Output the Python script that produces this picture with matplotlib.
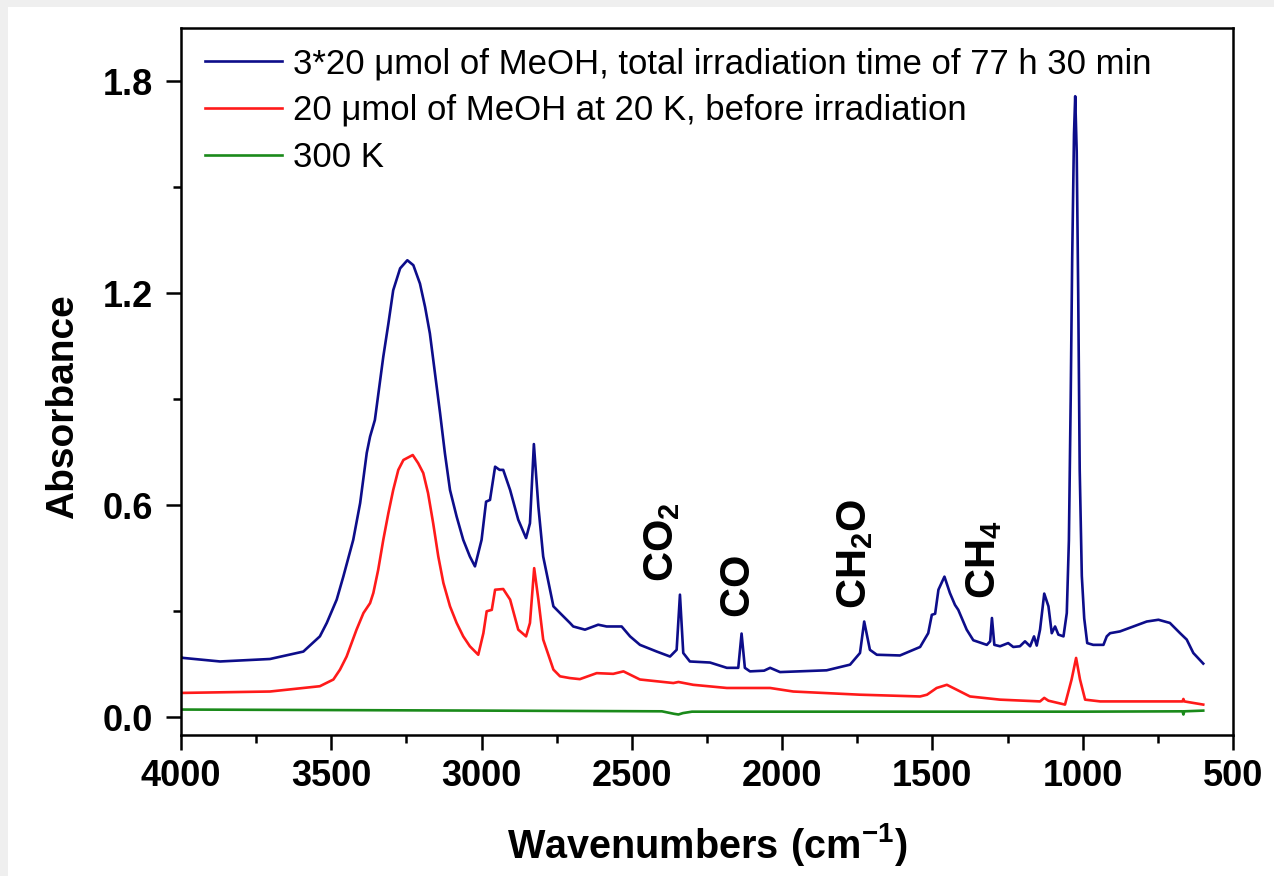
import numpy as np
import matplotlib
matplotlib.use('Agg')
import matplotlib.pyplot as plt
from matplotlib.patches import Rectangle
from matplotlib.ticker import MultipleLocator

plt.rcParams['font.family'] = ['Liberation Sans', 'DejaVu Sans']
plt.rcParams['mathtext.fontset'] = 'custom'
plt.rcParams['mathtext.rm'] = 'Liberation Sans'
plt.rcParams['mathtext.bf'] = 'Liberation Sans:bold'

#------------------------------ data ------------------------------

irr_wn = [4000, 3992, 3870, 3704, 3593, 3538, 3515, 3482, 3460, 3427, 3404, 3382, 3371, 3355,
          3327, 3310, 3294, 3271, 3247, 3227, 3205, 3188, 3172, 3155, 3138, 3122, 3105, 3083,
          3061, 3039, 3022, 3000, 2985, 2972, 2955, 2940, 2928, 2905,
          2878, 2852, 2839, 2826, 2811, 2795, 2761, 2739, 2706, 2695, 2656, 2612, 2584, 2534,
          2506, 2473, 2417, 2373, 2351, 2340, 2329, 2307, 2240, 2184, 2146, 2135, 2124, 2107,
          2060, 2040, 2007, 1852, 1774, 1741, 1727, 1708, 1685, 1608, 1541, 1514, 1502, 1491,
          1480, 1460, 1442, 1425, 1414, 1386, 1364, 1319, 1308, 1302, 1294, 1275, 1248, 1231,
          1209, 1192, 1175, 1162, 1153, 1142, 1128, 1114, 1103, 1092, 1081, 1064, 1053, 1046,
          1040, 1035, 1029, 1025, 1020, 1015, 1010, 1003, 995, 985, 965, 931, 920, 909, 876,
          832, 787, 748, 710, 676, 654, 632, 599]
irr_abs = [0.170, 0.168, 0.158, 0.165, 0.186, 0.229, 0.267, 0.333, 0.398, 0.502, 0.606, 0.748,
           0.794, 0.841, 1.020, 1.114, 1.208, 1.270, 1.293, 1.279, 1.227, 1.161, 1.086, 0.973,
           0.860, 0.747, 0.643, 0.568, 0.502, 0.455, 0.427, 0.502, 0.610, 0.615,
           0.709, 0.700, 0.700, 0.643, 0.559, 0.507, 0.549, 0.773, 0.596, 0.455, 0.314, 0.295,
           0.267, 0.257, 0.248, 0.262, 0.257, 0.257, 0.229, 0.205, 0.186, 0.172, 0.191, 0.347,
           0.182, 0.158, 0.155, 0.140, 0.140, 0.237, 0.140, 0.130, 0.132, 0.140, 0.128, 0.133,
           0.149, 0.182, 0.271, 0.191, 0.177, 0.175, 0.199, 0.238, 0.290, 0.293, 0.361, 0.398,
           0.352, 0.318, 0.304, 0.248, 0.218, 0.205, 0.215, 0.281, 0.205, 0.201, 0.210, 0.199,
           0.201, 0.215, 0.201, 0.229, 0.203, 0.248, 0.350, 0.314, 0.238, 0.257, 0.234, 0.229,
           0.295, 0.500, 0.900, 1.300, 1.650, 1.757, 1.600, 1.200, 0.700, 0.400, 0.280, 0.210,
           0.205, 0.205, 0.229, 0.238, 0.243, 0.257, 0.271, 0.276, 0.267, 0.238, 0.220, 0.182,
           0.152]

before_wn = [4000, 3704, 3538, 3493, 3471, 3449, 3416, 3393, 3371, 3360, 3344, 3327, 3310, 3294,
             3277, 3260, 3229, 3211, 3194, 3178, 3161, 3144, 3127, 3105, 3083, 3061, 3039, 3011,
             2994, 2983, 2966, 2955, 2928, 2905, 2878, 2852, 2839, 2825, 2811,
             2795, 2761, 2739, 2706, 2673, 2617, 2562, 2528, 2473, 2362, 2345, 2296, 2184, 2040,
             1963, 1741, 1541, 1518, 1486, 1452, 1419, 1375, 1275, 1142, 1128, 1114, 1059, 1037,
             1022, 1009, 992, 942, 668, 665, 662, 599]
before_abs = [0.069, 0.073, 0.088, 0.107, 0.135, 0.172, 0.248, 0.295, 0.323, 0.352, 0.417, 0.502,
              0.578, 0.643, 0.700, 0.728, 0.742, 0.719, 0.691, 0.634, 0.549, 0.455, 0.380, 0.314,
              0.267, 0.229, 0.201, 0.177, 0.238, 0.300, 0.304, 0.361, 0.363, 0.333, 0.248,
              0.229, 0.267, 0.422, 0.333, 0.220, 0.135, 0.116, 0.111, 0.108, 0.125, 0.123, 0.130,
              0.107, 0.097, 0.100, 0.092, 0.083, 0.083, 0.073, 0.064, 0.059, 0.064, 0.083, 0.092,
              0.078, 0.059, 0.050, 0.045, 0.055, 0.047, 0.036, 0.107, 0.168, 0.107, 0.050, 0.045,
              0.045, 0.052, 0.045, 0.036]

warm_wn = [4000, 3000, 2400, 2360, 2345, 2330, 2300, 1500, 1000, 668, 665, 662, 599]
warm_abs = [0.022, 0.019, 0.017, 0.010, 0.008, 0.012, 0.016, 0.016, 0.016, 0.017, 0.008, 0.017, 0.019]

labels = ['3*20 \u03bcmol of MeOH, total irradiation time of 77 h 30 min',
          '20 \u03bcmol of MeOH at 20 K, before irradiation',
          '300 K']

species = [r'$\mathbf{CO_2}$', r'$\mathbf{CO}$', r'$\mathbf{CH_2O}$', r'$\mathbf{CH_4}$']
species_wn = [2400, 2144, 1758, 1329]
species_abs = [0.497, 0.369, 0.463, 0.446]

#------------------------------ plot ------------------------------

fig = plt.figure(figsize=(12.74, 8.76), dpi=100, facecolor='#efefef')
fig.patches.append(Rectangle((8 / 1274, 0), 1, 1 - 7 / 876, transform=fig.transFigure,
                             facecolor='white', edgecolor='none', zorder=-5))
ax = fig.add_axes([181 / 1274, 1 - 735 / 876, 1052 / 1274, 707 / 876])
ax.set_zorder(2)

ax.plot(irr_wn, irr_abs, color='#0d0d8a', lw=1.9, label=labels[0])
ax.plot(before_wn, before_abs, color='#ff1a1a', lw=1.9, label=labels[1])
ax.plot(warm_wn, warm_abs, color='#1a8a1a', lw=1.9, label=labels[2])

for s, w, a in zip(species, species_wn, species_abs):
    ax.text(w, a, s, rotation=90, ha='center', va='center', fontsize=30)

ax.set_xlim(4000, 500)
ax.set_ylim(-0.05, 1.95)
ax.xaxis.set_major_locator(MultipleLocator(500))
ax.xaxis.set_minor_locator(MultipleLocator(250))
ax.yaxis.set_major_locator(MultipleLocator(0.6))
ax.yaxis.set_minor_locator(MultipleLocator(0.3))
ax.yaxis.set_major_formatter(matplotlib.ticker.FormatStrFormatter('%.1f'))

for sp in ax.spines.values():
    sp.set_linewidth(1.8)
ax.tick_params(which='major', direction='out', length=11, width=1.8, labelsize=26)
ax.tick_params(axis='x', which='major', pad=6)
ax.tick_params(axis='y', which='major', pad=9)
ax.tick_params(which='minor', direction='out', length=6, width=1.8)
for lab in ax.get_xticklabels() + ax.get_yticklabels():
    lab.set_fontweight('bold')

ax.set_xlabel(r'$\mathbf{Wavenumbers\ (cm^{-1})}$', fontsize=28.5, labelpad=20)
ax.set_ylabel('Absorbance', fontsize=28, fontweight='bold')
ax.yaxis.set_label_coords(-0.095, 0.464)

ax.legend(loc='upper left', bbox_to_anchor=(0.0228, 0.973), frameon=False, fontsize=25,
          handlelength=2.22, handletextpad=0.31, labelspacing=0.4, borderaxespad=0, borderpad=0)

plt.savefig('out.png', dpi=100, facecolor=fig.get_facecolor())
